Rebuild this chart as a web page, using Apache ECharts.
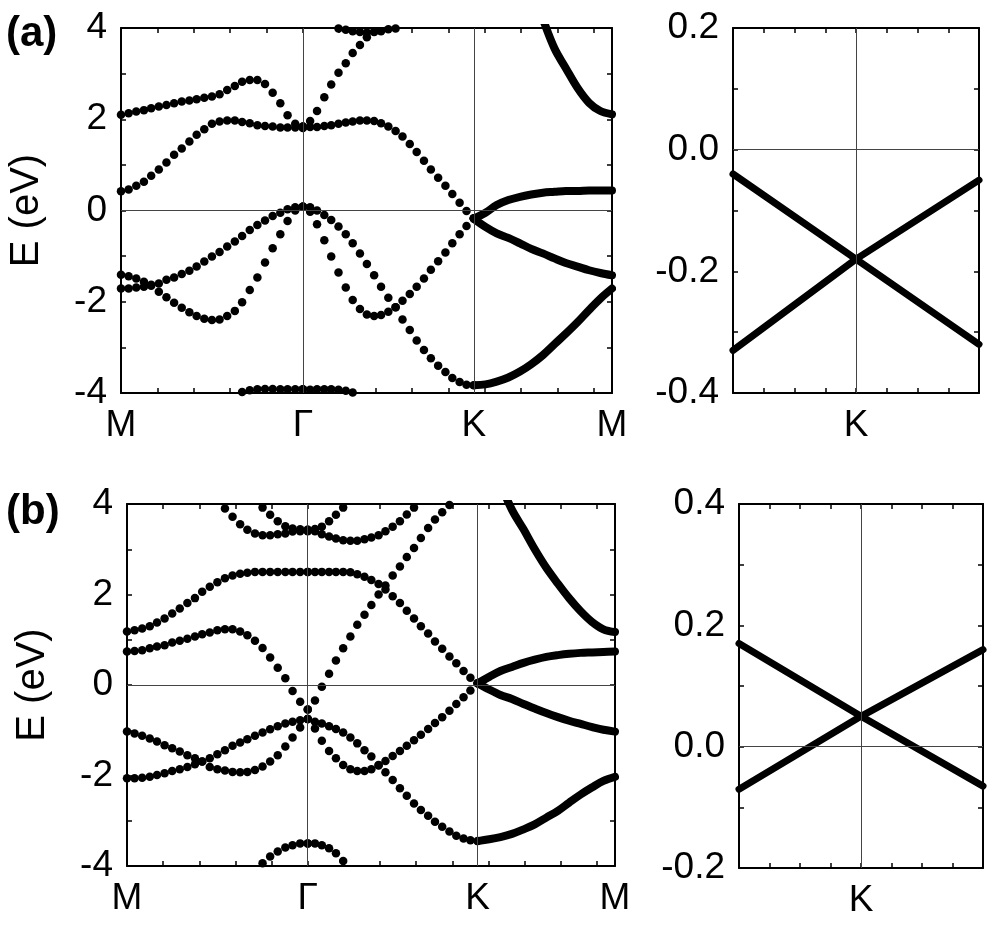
<!DOCTYPE html>
<html>
<head>
<meta charset="utf-8">
<title>Band structure</title>
<script src="https://cdn.jsdelivr.net/npm/echarts@6/dist/echarts.min.js"></script>
<style>
html, body { margin: 0; padding: 0; background: #fff; }
#main { width: 1004px; height: 930px; }
</style>
</head>
<body>
<div id="main"></div>
<script>
// high-symmetry points along the k path (tick units)
var kLabels = ['M', 'Γ', 'K', 'M'];
var kTicks = [0, 5, 9.7, 13.5];

// k samples of each path segment
var kMG = [0, 0.21, 0.42, 0.63, 0.83, 1.04, 1.25, 1.46, 1.67, 1.88, 2.08, 2.29, 2.5, 2.71, 2.92, 3.13, 3.33, 3.54, 3.75, 3.96, 4.17, 4.38, 4.58, 4.79, 5];
var kGK = [5, 5.2, 5.39, 5.59, 5.78, 5.98, 6.18, 6.37, 6.57, 6.76, 6.96, 7.15, 7.35, 7.55, 7.74, 7.94, 8.13, 8.33, 8.52, 8.72, 8.92, 9.11, 9.31, 9.5, 9.7];
var kKM = [9.7, 10.02, 10.33, 10.65, 10.97, 11.28, 11.6, 11.92, 12.23, 12.55, 12.87, 13.18, 13.5];

// (a) bands, M-Γ
var aMG1 = [2.10, 2.13, 2.17, 2.20, 2.24, 2.28, 2.31, 2.35, 2.39, 2.41, 2.44, 2.47, 2.50, 2.55, 2.64, 2.73, 2.82, 2.86, 2.86, 2.77, 2.58, 2.35, 2.09, 1.90, 1.84];
var aMG2 = [0.42, 0.46, 0.54, 0.63, 0.76, 0.90, 1.05, 1.22, 1.36, 1.51, 1.66, 1.78, 1.90, 1.95, 1.97, 1.97, 1.94, 1.91, 1.87, 1.85, 1.84, 1.82, 1.82, 1.82, 1.82];
var aMG3 = [-1.41, -1.44, -1.49, -1.56, -1.63, -1.78, -1.90, -2.02, -2.13, -2.23, -2.31, -2.37, -2.40, -2.39, -2.31, -2.20, -2.01, -1.74, -1.47, -1.14, -0.83, -0.52, -0.23, 0.00, 0.08];
var aMG4 = [-1.71, -1.71, -1.69, -1.67, -1.65, -1.60, -1.52, -1.47, -1.39, -1.32, -1.23, -1.12, -1.01, -0.91, -0.79, -0.68, -0.56, -0.43, -0.32, -0.22, -0.12, -0.05, 0.03, 0.07, 0.08];
var aMG5 = [null, null, null, null, null, null, null, null, null, null, null, null, null, null, null, null, -3.98, -3.94, -3.92, -3.91, -3.91, -3.92, -3.92, -3.92, -3.92];
// (a) bands, Γ-K
var aGK1 = [1.84, 1.96, 2.18, 2.48, 2.76, 3.02, 3.23, 3.45, 3.63, 3.80, 3.92, null, null, null, null, null, null, null, null, null, null, null, null, null, null];
var aGK2 = [null, null, null, null, null, 3.99, 3.96, 3.93, 3.91, 3.90, 3.91, 3.93, 3.97, 3.99, null, null, null, null, null, null, null, null, null, null, null];
var aGK3 = [1.81, 1.83, 1.83, 1.85, 1.87, 1.90, 1.93, 1.95, 1.97, 1.97, 1.96, 1.91, 1.84, 1.74, 1.62, 1.46, 1.28, 1.09, 0.90, 0.72, 0.54, 0.36, 0.17, -0.01, -0.17];
var aGK4 = [0.08, 0.07, 0.00, -0.10, -0.21, -0.35, -0.52, -0.72, -0.94, -1.17, -1.42, -1.67, -1.91, -2.12, -2.39, -2.62, -2.85, -3.06, -3.24, -3.40, -3.54, -3.67, -3.76, -3.82, -3.83];
var aGK5 = [0.08, -0.03, -0.30, -0.65, -1.01, -1.36, -1.69, -1.96, -2.16, -2.28, -2.31, -2.29, -2.22, -2.12, -1.98, -1.83, -1.67, -1.49, -1.30, -1.11, -0.92, -0.72, -0.52, -0.34, -0.17];
var aGK6 = [-3.92, -3.93, -3.92, -3.92, -3.92, -3.93, -3.95, -3.99, null, null, null, null, null, null, null, null, null, null, null, null, null, null, null, null, null];
// (a) bands, K-M
var aKM1 = [null, null, null, null, null, null, 4.2, 3.55, 3.12, 2.69, 2.36, 2.18, 2.11];
var aKM2 = [-0.18, -0.05, 0.12, 0.23, 0.30, 0.35, 0.39, 0.41, 0.43, 0.43, 0.44, 0.44, 0.44];
var aKM3 = [-0.18, -0.36, -0.50, -0.60, -0.72, -0.84, -0.94, -1.05, -1.15, -1.23, -1.31, -1.37, -1.42];
var aKM4 = [-3.83, -3.81, -3.75, -3.66, -3.53, -3.37, -3.17, -2.93, -2.70, -2.45, -2.18, -1.93, -1.71];

// (b) bands, M-Γ
var bMG1 = [null, null, null, null, null, null, null, null, null, null, null, null, null, null, null, null, null, null, 3.92, 3.76, 3.62, 3.51, 3.46, 3.44, 3.43];
var bMG2 = [null, null, null, null, null, null, null, null, null, null, null, null, null, 3.90, 3.72, 3.55, 3.43, 3.35, 3.31, 3.31, 3.33, 3.35, 3.39, 3.40, 3.40];
var bMG3 = [1.18, 1.21, 1.25, 1.30, 1.38, 1.47, 1.58, 1.69, 1.81, 1.92, 2.06, 2.17, 2.27, 2.36, 2.42, 2.46, 2.48, 2.50, 2.50, 2.50, 2.50, 2.50, 2.50, 2.50, 2.50];
var bMG4 = [0.74, 0.75, 0.77, 0.81, 0.85, 0.88, 0.94, 0.98, 1.02, 1.07, 1.12, 1.16, 1.21, 1.23, 1.23, 1.18, 1.10, 0.98, 0.82, 0.61, 0.38, 0.15, -0.13, -0.37, -0.54];
var bMG5 = [-1.03, -1.07, -1.12, -1.18, -1.25, -1.33, -1.40, -1.47, -1.55, -1.62, -1.69, -1.81, -1.86, -1.89, -1.92, -1.93, -1.92, -1.88, -1.80, -1.69, -1.55, -1.36, -1.16, -0.94, -0.75];
var bMG6 = [-2.06, -2.06, -2.05, -2.03, -1.99, -1.95, -1.90, -1.86, -1.81, -1.75, -1.69, -1.62, -1.53, -1.44, -1.34, -1.27, -1.20, -1.12, -1.05, -0.98, -0.91, -0.85, -0.81, -0.78, -0.75];
var bMG7 = [null, null, null, null, null, null, null, null, null, null, null, null, null, null, null, null, null, null, -3.94, -3.79, -3.68, -3.59, -3.54, -3.50, -3.50];
// (b) bands, Γ-K
var bGK1 = [3.43, 3.45, 3.50, 3.62, 3.76, 3.92, null, null, null, null, null, null, null, null, null, null, null, null, null, null, null, null, null, null, null];
var bGK2 = [3.41, 3.40, 3.33, 3.28, 3.24, 3.20, 3.19, 3.19, 3.22, 3.26, 3.31, 3.40, 3.50, 3.62, 3.77, 3.92, null, null, null, null, null, null, null, null, null];
var bGK3 = [2.50, 2.50, 2.50, 2.50, 2.50, 2.50, 2.49, 2.45, 2.39, 2.32, 2.23, 2.11, 1.96, 1.81, 1.64, 1.47, 1.30, 1.14, 0.96, 0.80, 0.63, 0.48, 0.31, 0.16, 0.04];
var bGK4 = [-0.54, -0.34, -0.04, 0.25, 0.54, 0.81, 1.07, 1.33, 1.55, 1.77, 2.00, 2.20, 2.42, 2.62, 2.83, 3.03, 3.25, 3.47, 3.66, 3.82, 3.98, null, null, null, null];
var bGK5 = [-0.75, -0.81, -0.85, -0.91, -0.97, -1.05, -1.16, -1.29, -1.44, -1.58, -1.77, -1.93, -2.10, -2.28, -2.45, -2.62, -2.76, -2.89, -3.02, -3.13, -3.24, -3.33, -3.39, -3.43, -3.45];
var bGK6 = [-0.75, -0.96, -1.23, -1.46, -1.62, -1.77, -1.86, -1.90, -1.90, -1.86, -1.78, -1.68, -1.57, -1.46, -1.34, -1.22, -1.10, -0.97, -0.84, -0.71, -0.57, -0.42, -0.27, -0.12, 0.04];
var bGK7 = [-3.50, -3.50, -3.54, -3.61, -3.72, -3.89, null, null, null, null, null, null, null, null, null, null, null, null, null, null, null, null, null, null, null];
// (b) bands, K-M
var bKM1 = [null, null, 4.45, 3.87, 3.44, 3.00, 2.59, 2.24, 1.92, 1.63, 1.39, 1.23, 1.17];
var bKM2 = [0.04, 0.18, 0.31, 0.40, 0.49, 0.56, 0.62, 0.66, 0.69, 0.71, 0.72, 0.73, 0.74];
var bKM3 = [0.04, -0.10, -0.22, -0.31, -0.42, -0.52, -0.62, -0.71, -0.79, -0.86, -0.93, -0.99, -1.03];
var bKM4 = [-3.45, -3.41, -3.36, -3.29, -3.19, -3.08, -2.93, -2.78, -2.60, -2.42, -2.26, -2.12, -2.03];

// zoom near K (right panels)
var kZoom = [-4, 0, 4];
var aK1 = [-0.04, -0.18, -0.32];
var aK2 = [-0.33, -0.18, -0.05];
var bK1 = [0.17, 0.05, -0.065];
var bK2 = [-0.07, 0.05, 0.16];

var font = "'Liberation Sans', Arial, Helvetica, sans-serif";
var ink = '#000';

function pts(ks, es) {
    var out = [];
    for (var i = 0; i < ks.length; i++) {
        if (es[i] !== null) out.push([ks[i], es[i]]);
    }
    return out;
}

function dots(g, ks, es) {
    return {
        type: 'scatter', xAxisIndex: 2 * g, yAxisIndex: 2 * g,
        data: pts(ks, es), symbolSize: 8.5, silent: true, z: 3,
        itemStyle: { color: ink, opacity: 1 }
    };
}

function band(g, ks, es, w, smooth) {
    return {
        type: 'line', xAxisIndex: 2 * g, yAxisIndex: 2 * g,
        data: pts(ks, es), showSymbol: false, smooth: smooth, silent: true, z: 3,
        lineStyle: { color: ink, width: w, cap: 'round', join: 'round', opacity: 1 }
    };
}

function guides(g, marks) {
    return {
        type: 'line', xAxisIndex: 2 * g, yAxisIndex: 2 * g, data: [], z: 1,
        markLine: {
            silent: true, symbol: ['none', 'none'], animation: false,
            label: { show: false },
            lineStyle: { color: '#444', width: 1, type: 'solid' },
            data: marks
        }
    };
}

var axisLine = { show: true, onZero: false, lineStyle: { color: ink, width: 2 } };
var tick = { show: true, inside: true, length: 5, lineStyle: { color: ink, width: 1.5 } };

function xAxes(g, min, max, labelCfg) {
    return [{
        gridIndex: g, type: 'value', position: 'bottom', min: min, max: max, interval: 1,
        axisLine: axisLine, axisTick: tick, splitLine: { show: false },
        axisLabel: labelCfg
    }, {
        gridIndex: g, type: 'value', position: 'top', min: min, max: max, interval: 1,
        axisLine: axisLine, axisTick: tick, splitLine: { show: false },
        axisLabel: { show: false }
    }];
}

function yAxes(g, min, max, step, fmt, name) {
    return [{
        gridIndex: g, type: 'value', position: 'left', min: min, max: max, interval: step,
        axisLine: axisLine, axisTick: tick, splitLine: { show: false },
        axisLabel: { formatter: fmt, fontSize: 37, fontFamily: font, color: ink, margin: 14 },
        name: name, nameLocation: 'middle', nameGap: 74,
        nameTextStyle: { fontSize: 40, fontFamily: font, color: ink }
    }, {
        gridIndex: g, type: 'value', position: 'right', min: min, max: max, interval: step,
        axisLine: axisLine, axisTick: tick, splitLine: { show: false },
        axisLabel: { show: false }
    }];
}

var pathLabel = {
    customValues: kTicks, fontSize: 37, fontFamily: font, color: ink, margin: 14,
    formatter: function (v) {
        for (var i = 0; i < kTicks.length; i++) {
            if (Math.abs(kTicks[i] - v) < 1e-6) return kLabels[i];
        }
        return '';
    }
};
var zoomLabel = {
    fontSize: 37, fontFamily: font, color: ink, margin: 14,
    formatter: function (v) { return Math.abs(v) < 1e-6 ? 'K' : ''; }
};
var evenInt = function (v) { return Math.round(v) % 2 === 0 ? String(Math.round(v)) : ''; };
var evenTenth = function (v) {
    var r = Math.round(v * 10);
    return r % 2 === 0 ? (r / 10).toFixed(1) : '';
};

var myChart = echarts.init(document.getElementById('main'));

var option = {
    animation: false,
    backgroundColor: '#fff',
    title: [
        { text: '(a)', left: 1, top: 8, textStyle: { fontSize: 42, fontWeight: 'bold', fontFamily: font, color: ink } },
        { text: '(b)', left: 1, top: 486, textStyle: { fontSize: 42, fontWeight: 'bold', fontFamily: font, color: ink } }
    ],
    grid: [
        { left: 121, top: 28, width: 491, height: 365 },
        { left: 733, top: 28, width: 246, height: 365 },
        { left: 127, top: 504, width: 488, height: 362 },
        { left: 739, top: 504, width: 244, height: 364 }
    ],
    xAxis: []
        .concat(xAxes(0, 0, 13.5, pathLabel))
        .concat(xAxes(1, -4, 4, zoomLabel))
        .concat(xAxes(2, 0, 13.5, pathLabel))
        .concat(xAxes(3, -4, 4, zoomLabel)),
    yAxis: []
        .concat(yAxes(0, -4, 4, 1, evenInt, 'E (eV)'))
        .concat(yAxes(1, -0.4, 0.2, 0.1, evenTenth, ''))
        .concat(yAxes(2, -4, 4, 1, evenInt, 'E (eV)'))
        .concat(yAxes(3, -0.2, 0.4, 0.1, evenTenth, '')),
    series: [
        guides(0, [{ xAxis: kTicks[1] }, { xAxis: kTicks[2] }, { yAxis: 0 }]),
        guides(1, [{ xAxis: 0 }, { yAxis: 0 }]),
        guides(2, [{ xAxis: kTicks[1] }, { xAxis: kTicks[2] }, { yAxis: 0 }]),
        guides(3, [{ xAxis: 0 }, { yAxis: 0 }]),

        dots(0, kMG, aMG1), dots(0, kMG, aMG2), dots(0, kMG, aMG3), dots(0, kMG, aMG4), dots(0, kMG, aMG5),
        dots(0, kGK, aGK1), dots(0, kGK, aGK2), dots(0, kGK, aGK3), dots(0, kGK, aGK4), dots(0, kGK, aGK5), dots(0, kGK, aGK6),
        band(0, kKM, aKM1, 8, 0.35), band(0, kKM, aKM2, 8, 0.35), band(0, kKM, aKM3, 8, 0.35), band(0, kKM, aKM4, 8, 0.35),
        band(1, kZoom, aK1, 7, false), band(1, kZoom, aK2, 7, false),

        dots(2, kMG, bMG1), dots(2, kMG, bMG2), dots(2, kMG, bMG3), dots(2, kMG, bMG4), dots(2, kMG, bMG5), dots(2, kMG, bMG6), dots(2, kMG, bMG7),
        dots(2, kGK, bGK1), dots(2, kGK, bGK2), dots(2, kGK, bGK3), dots(2, kGK, bGK4), dots(2, kGK, bGK5), dots(2, kGK, bGK6), dots(2, kGK, bGK7),
        band(2, kKM, bKM1, 8, 0.35), band(2, kKM, bKM2, 8, 0.35), band(2, kKM, bKM3, 8, 0.35), band(2, kKM, bKM4, 8, 0.35),
        band(3, kZoom, bK1, 7, false), band(3, kZoom, bK2, 7, false)
    ]
};

myChart.setOption(option);
</script>
</body>
</html>
